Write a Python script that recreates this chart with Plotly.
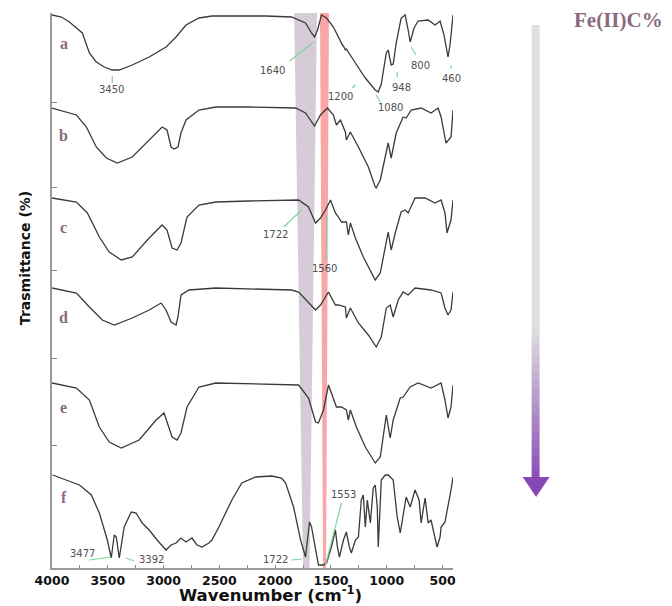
import plotly.graph_objects as go

# ---------------- data (wavenumber cm-1, stacked transmittance in plot units) ----------------
wn_a = [4000, 3915, 3844, 3728, 3665, 3603, 3531, 3460, 3397, 3281, 3129, 2978, 2888, 2799, 2683, 2567,
        2388, 2085, 1853, 1728, 1674, 1647, 1620, 1585, 1540, 1478, 1397, 1388, 1371, 1362, 1281, 1192,
        1103, 1076, 1049, 1004, 987, 960, 942, 915, 871, 835, 808, 790, 755, 719, 629, 567, 522, 487,
        451, 433, 406]
t_a = [553, 551, 546, 535, 515, 506, 501, 498, 498, 503, 511, 521, 531, 543, 550, 552,
       552, 552, 551, 545, 535, 531, 538, 553, 550, 541, 523, 522, 518, 519, 505, 490,
       478, 476, 484, 515, 518, 503, 504, 525, 550, 553, 538, 526, 540, 547, 548, 543, 547, 533,
       511, 523, 553]

wn_b = [4000, 3781, 3692, 3603, 3513, 3415, 3281, 3129, 3013, 2969, 2933, 2906, 2871, 2844, 2799, 2683,
        2531, 2237, 1817, 1728, 1647, 1594, 1531, 1478, 1451, 1415, 1371, 1362, 1326, 1254, 1165, 1103,
        1094, 1058, 1013, 987, 960, 915, 853, 826, 781, 692, 603, 540, 513, 469, 424, 406]
t_b = [460, 453, 441, 421, 410, 405, 411, 428, 441, 438, 421, 419, 421, 435, 448, 458,
       461, 461, 460, 455, 442, 453, 460, 453, 443, 448, 436, 428, 436, 421, 401, 381,
       380, 388, 411, 425, 410, 435, 451, 450, 458, 460, 455, 460, 451, 425, 431, 458]

wn_c = [4000, 3781, 3683, 3576, 3487, 3379, 3281, 3129, 3013, 2969, 2924, 2879, 2844, 2790, 2683, 2531,
        2237, 1942, 1790, 1701, 1638, 1594, 1549, 1504, 1460, 1433, 1406, 1362, 1344, 1326, 1281, 1210,
        1138, 1103, 1058, 1013, 987, 960, 924, 871, 835, 808, 746, 656, 567, 513, 478, 460, 424, 406]
t_c = [370, 366, 355, 331, 316, 308, 311, 330, 343, 338, 320, 318, 325, 351, 363, 366,
       367, 368, 368, 361, 345, 350, 358, 368, 355, 351, 346, 346, 333, 345, 330, 311,
       295, 288, 295, 323, 336, 318, 335, 356, 358, 355, 370, 370, 365, 368, 355, 335, 348, 368]

wn_d = [4000, 3781, 3665, 3549, 3442, 3281, 3129, 3022, 2978, 2933, 2888, 2871, 2844, 2772, 2531, 1853,
        1790, 1719, 1638, 1594, 1522, 1460, 1433, 1371, 1362, 1326, 1254, 1165, 1094, 1049, 1004, 969,
        942, 897, 853, 808, 746, 603, 513, 478, 451, 424, 406]
t_d = [280, 275, 261, 248, 243, 250, 258, 265, 258, 246, 243, 251, 273, 278, 280, 278,
       276, 268, 258, 263, 276, 263, 263, 261, 250, 260, 245, 233, 221, 231, 260, 263,
       251, 268, 276, 273, 280, 278, 275, 260, 253, 258, 276]

wn_e = [4000, 3781, 3665, 3576, 3487, 3379, 3219, 3067, 2996, 2951, 2924, 2879, 2844, 2790, 2683, 2531,
        1942, 1790, 1701, 1638, 1612, 1567, 1522, 1496, 1451, 1406, 1362, 1344, 1326, 1272, 1192, 1103,
        1058, 1004, 969, 942, 879, 853, 790, 719, 603, 513, 478, 451, 424, 406]
t_e = [185, 180, 168, 141, 126, 120, 128, 148, 155, 141, 131, 128, 135, 161, 181, 185,
       184, 183, 170, 146, 145, 158, 183, 175, 161, 161, 158, 148, 158, 141, 121, 105,
       111, 153, 130, 148, 170, 171, 181, 185, 180, 185, 168, 150, 161, 183]

wn_f = [3995, 3871, 3754, 3647, 3576, 3504, 3469, 3442, 3424, 3397, 3353, 3290, 3246, 3192, 3129, 3058,
        2978, 2933, 2888, 2844, 2799, 2746, 2701, 2656, 2594, 2567, 2504, 2388, 2299, 2174, 2031, 1942,
        1906, 1835, 1772, 1728, 1692, 1674, 1638, 1612, 1567, 1540, 1496, 1460, 1442, 1424, 1388, 1362,
        1335, 1317, 1281, 1254, 1228, 1210, 1192, 1174, 1147, 1121, 1103, 1085, 1076, 1058, 1049, 1013,
        987, 942, 924, 906, 879, 853, 826, 790, 763, 746, 710, 692, 656, 629, 603, 567, 549, 522, 513,
        478, 451, 424, 406]
t_f = [93, 88, 83, 73, 55, 28, 10, 33, 31, 10, 41, 56, 55, 45, 38, 28,
       18, 23, 25, 30, 26, 30, 23, 21, 25, 28, 41, 68, 85, 91, 92, 90,
       85, 61, 28, 11, 46, 41, 18, 3, 3, 5, 21, 38, 21, 11, 28, 36,
       21, 15, 28, 31, 68, 73, 41, 68, 45, 80, 83, 61, 21, 61, 88, 93,
       93, 88, 68, 51, 35, 55, 71, 61, 73, 78, 68, 45, 70, 45, 48, 31, 21, 31, 41,
       46, 61, 78, 91]

series_names = ["a", "b", "c", "d", "e", "f"]
series_wn = [wn_a, wn_b, wn_c, wn_d, wn_e, wn_f]
series_t = [t_a, t_b, t_c, t_d, t_e, t_f]
label_y = [525, 433, 341, 251, 161, 71]

# peak labels: (text, text_wn, text_t, line_x0, line_y0, line_x1, line_y1)
peak_labels = [
    ("3450", 3465, 479, 3460, 492, 3460, 485),
    ("1640", 2022, 498, 1870, 507, 1656, 526),
    ("1200", 1410, 472, 1308, 480, 1281, 483),
    ("1080", 969, 461, 1094, 473, 1058, 466),
    ("948", 871, 481, 906, 496, 906, 491),
    ("800", 701, 503, 781, 521, 737, 513),
    ("460", 424, 490, 424, 503, 424, 499),
    ("1722", 1996, 334, 1924, 341, 1763, 358),
    ("1560", 1558, 300, 1540, 353, 1540, 308),
    ("3477", 3728, 15, 3665, 8, 3469, 11),
    ("3392", 3112, 9, 3335, 10, 3263, 7),
    ("1722", 1996, 9, 1853, 8, 1763, 9),
    ("1553", 1388, 74, 1406, 65, 1549, 3),
]

x_ticks = [4000, 3500, 3000, 2500, 2000, 1500, 1000, 500]
y_ticks = [123, 210, 298, 381, 466]

# ---------------- figure ----------------
fig = go.Figure()
for name, wn, t in zip(series_names, series_wn, series_t):
    fig.add_trace(go.Scatter(x=wn, y=t, mode="lines", name=name, hoverinfo="skip",
                             line=dict(color="#3a3a3a", width=1.3), showlegend=False))

W, H = 672, 606
ML, MR, MT, MB = 52, 10, 13, 38
PW, PH = W - ML - MR, H - MT - MB


def px(xp):
    return (xp - ML) / PW


def py(yp):
    return (H - MB - yp) / PH


shapes = []
# shaded bands
shapes.append(dict(type="path", xref="x", yref="y", layer="below",
                   path="M 1830,555 L 1625,555 L 1692,0 L 1750,0 Z",
                   fillcolor="#d6ccd8", line=dict(width=0)))
shapes.append(dict(type="path", xref="x", yref="y", layer="below",
                   path="M 1598,555 L 1518,555 L 1544,0 L 1571,0 Z",
                   fillcolor="#f9a6a6", line=dict(width=0)))

# leader lines
for txt, tx, ty, x0, y0, x1, y1 in peak_labels:
    shapes.append(dict(type="line", xref="x", yref="y", x0=x0, y0=y0, x1=x1, y1=y1,
                       line=dict(color="#7fd49a", width=1.2)))

# gradient arrow
top, mid, bot = 25, 330, 478
steps = 60
c0 = (222, 222, 222)
c1 = (138, 78, 184)
for i in range(steps):
    ya = top + (bot - top) * i / steps
    yb = top + (bot - top) * (i + 1) / steps
    yc = (ya + yb) / 2
    f = 0 if yc < mid else (yc - mid) / (bot - mid)
    col = tuple(int(c0[k] + (c1[k] - c0[k]) * f) for k in range(3))
    shapes.append(dict(type="rect", xref="paper", yref="paper",
                       x0=px(534), x1=px(542), y0=py(yb) - 0.001, y1=py(ya),
                       fillcolor="rgb(%d,%d,%d)" % col, line=dict(width=0)))
shapes.append(dict(type="path", xref="paper", yref="paper",
                   path="M %f,%f L %f,%f L %f,%f Z" % (px(525), py(477), px(552), py(477), px(538.5), py(497)),
                   fillcolor="rgb(134,72,182)", line=dict(width=0)))

C = dict(xanchor="center", yanchor="middle", showarrow=False)
annotations = []
for txt, tx, ty, x0, y0, x1, y1 in peak_labels:
    annotations.append(dict(x=tx, y=ty, xref="x", yref="y", text=txt, **C,
                            font=dict(family="DejaVu Sans", size=10, color="#505050")))
for name, ly in zip(series_names, label_y):
    annotations.append(dict(x=px(64), y=ly, xref="paper", yref="y", text="<b>%s</b>" % name, **C,
                            font=dict(family="Liberation Serif", size=16, color="#8a6a80")))
annotations.append(dict(x=px(621), y=py(20), xref="paper", yref="paper", text="<b>Fe(II)C%</b>", **C,
                        font=dict(family="Liberation Serif", size=21, color="#8a6a80")))
annotations.append(dict(x=px(272), y=py(594), xref="paper", yref="paper",
                        text="<b>Wavenumber (cm<sup>-1</sup>)</b>", **C,
                        font=dict(family="DejaVu Sans", size=16.5, color="#111")))
annotations.append(dict(x=px(25), y=py(258), xref="paper", yref="paper",
                        text="<b>Trasmittance (%)</b>", textangle=-90, **C,
                        font=dict(family="DejaVu Sans", size=14, color="#111")))

fig.update_layout(
    width=W, height=H,
    margin=dict(l=ML, r=MR, t=MT, b=MB),
    paper_bgcolor="white", plot_bgcolor="white",
    shapes=shapes, annotations=annotations,
    xaxis=dict(range=[4000, 406], domain=[0, (455 - ML) / PW], tickvals=x_ticks,
               ticktext=[str(v) for v in x_ticks], ticks="inside", ticklen=3,
               tickcolor="#888", showline=True, linecolor="#999", linewidth=2,
               showgrid=False, zeroline=False,
               minor=dict(dtick=250, ticks="inside", ticklen=3, tickcolor="#888", showgrid=False),
               tickfont=dict(family="DejaVu Sans", size=12.5, color="#111", weight="bold")),
    yaxis=dict(range=[0, 555], tickvals=y_ticks, ticks="inside", ticklen=5, tickcolor="#888",
               showticklabels=False, showline=True, linecolor="#999", linewidth=2,
               showgrid=False, zeroline=False),
)

fig.write_html("out.html", config={"displayModeBar": False},
               post_script="document.body.style.margin='0';")
